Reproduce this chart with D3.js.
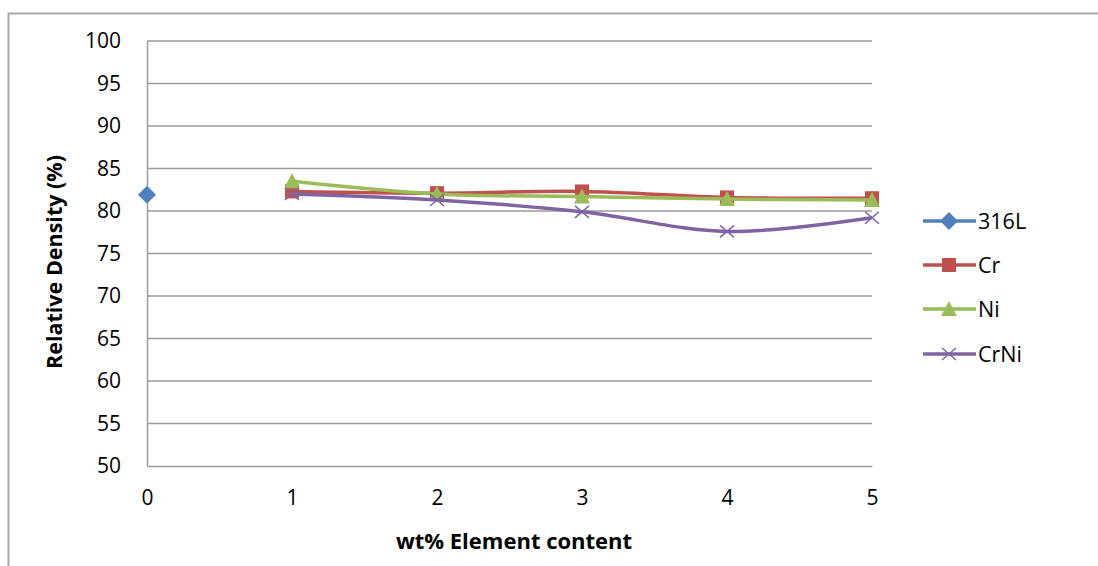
<!DOCTYPE html>
<html>
<head>
<meta charset="utf-8">
<script src="https://cdn.jsdelivr.net/npm/d3@7"></script>
<style>
  html, body { margin: 0; padding: 0; background: #fff; }
  svg { display: block; }
  text { font-family: "Open Sans", "Liberation Sans", sans-serif; fill: #000; }
</style>
</head>
<body>
<svg id="chart" width="1098" height="566"></svg>
<script>
// Relative density vs. alloying element content
const xTicks = [0, 1, 2, 3, 4, 5];
const yTicks = [50, 55, 60, 65, 70, 75, 80, 85, 90, 95, 100];

const seriesNames = ["316L", "Cr", "Ni", "CrNi"];
const seriesColors = ["#4F81BD", "#C0504D", "#9BBB59", "#8064A2"];
const seriesMarkers = ["diamond", "square", "triangle", "cross"];

const x316L = [0];
const y316L = [81.9];
const xCr = [1, 2, 3, 4, 5];
const yCr = [82.3, 82.1, 82.3, 81.6, 81.5];
const xNi = [1, 2, 3, 4, 5];
const yNi = [83.5, 82.0, 81.7, 81.4, 81.3];
const xCrNi = [1, 2, 3, 4, 5];
const yCrNi = [82.0, 81.3, 79.9, 77.6, 79.2];

const seriesX = [x316L, xCr, xNi, xCrNi];
const seriesY = [y316L, yCr, yNi, yCrNi];

const svg = d3.select("#chart");

// outer chart frame
svg.append("rect")
  .attr("x", 8.5).attr("y", 13.5)
  .attr("width", 1200).attr("height", 700)
  .attr("fill", "none").attr("stroke", "#a6a6a6").attr("stroke-width", 2);

const xScale = d3.scaleLinear().domain([0, 5]).range([147, 872]);
const yScale = d3.scaleLinear().domain([50, 100]).range([466, 41]);

// horizontal gridlines
svg.append("g")
  .selectAll("line")
  .data(yTicks.filter(v => v > 50))
  .join("line")
  .attr("x1", xScale(0)).attr("x2", xScale(5))
  .attr("y1", d => yScale(d)).attr("y2", d => yScale(d))
  .attr("stroke", "#9a9a9a").attr("stroke-width", 1.5);

// y axis
const yAxis = svg.append("g")
  .attr("transform", `translate(${xScale(0)},0)`)
  .call(d3.axisLeft(yScale).tickValues(yTicks).tickSize(0).tickPadding(26));
yAxis.select(".domain").attr("stroke", "#9a9a9a").attr("stroke-width", 1.5);
yAxis.selectAll("text")
  .style("font-family", "'Open Sans', sans-serif")
  .attr("font-size", 21).attr("fill", "#000");

// x axis
const xAxis = svg.append("g")
  .attr("transform", `translate(0,${yScale(50)})`)
  .call(d3.axisBottom(xScale).tickValues(xTicks).tickSize(0).tickPadding(24).tickFormat(d3.format("d")));
xAxis.select(".domain").attr("stroke", "#9a9a9a").attr("stroke-width", 1.5);
xAxis.selectAll("text")
  .style("font-family", "'Open Sans', sans-serif")
  .attr("font-size", 21).attr("fill", "#000");

// axis titles
svg.append("text")
  .attr("x", 514).attr("y", 549)
  .attr("text-anchor", "middle")
  .attr("font-size", 22).attr("font-weight", "bold")
  .text("wt% Element content");

svg.append("text")
  .attr("transform", `translate(62,262) rotate(-90)`)
  .attr("text-anchor", "middle")
  .attr("font-size", 21.5).attr("font-weight", "bold")
  .text("Relative Density (%)");

// marker shapes
function drawMarker(g, type, color, cx, cy) {
  if (type === "diamond") {
    g.append("path")
      .attr("d", `M${cx},${cy - 9}L${cx + 9},${cy}L${cx},${cy + 9}L${cx - 9},${cy}Z`)
      .attr("fill", color);
  } else if (type === "square") {
    g.append("rect")
      .attr("x", cx - 7).attr("y", cy - 7).attr("width", 14).attr("height", 14)
      .attr("fill", color);
  } else if (type === "triangle") {
    g.append("path")
      .attr("d", `M${cx},${cy - 8}L${cx + 8},${cy + 7}L${cx - 8},${cy + 7}Z`)
      .attr("fill", color);
  } else {
    g.append("path")
      .attr("d", `M${cx - 7},${cy - 6}L${cx + 7},${cy + 6}M${cx - 7},${cy + 6}L${cx + 7},${cy - 6}`)
      .attr("stroke", color).attr("stroke-width", 1.5).attr("fill", "none");
  }
}

const line = d3.line()
  .x(d => xScale(d[0]))
  .y(d => yScale(d[1]))
  .curve(d3.curveCatmullRom.alpha(0));

const plot = svg.append("g");
seriesNames.forEach((name, i) => {
  const pts = seriesX[i].map((v, j) => [v, seriesY[i][j]]);
  const g = plot.append("g");
  if (pts.length > 1) {
    g.append("path")
      .attr("d", line(pts))
      .attr("fill", "none")
      .attr("stroke", seriesColors[i])
      .attr("stroke-width", 3.5)
      .attr("stroke-linejoin", "round");
  }
  pts.forEach(p => drawMarker(g, seriesMarkers[i], seriesColors[i], xScale(p[0]), yScale(p[1])));
});

// legend
const legendRows = [221, 265, 309, 354];
const legend = svg.append("g");
seriesNames.forEach((name, i) => {
  const y = legendRows[i];
  legend.append("line")
    .attr("x1", 923).attr("x2", 976).attr("y1", y).attr("y2", y)
    .attr("stroke", seriesColors[i]).attr("stroke-width", 3.5);
  drawMarker(legend, seriesMarkers[i], seriesColors[i], 949, y);
  legend.append("text")
    .attr("x", 978).attr("y", y + 8)
    .attr("font-size", 21.5)
    .text(name);
});
</script>
</body>
</html>
